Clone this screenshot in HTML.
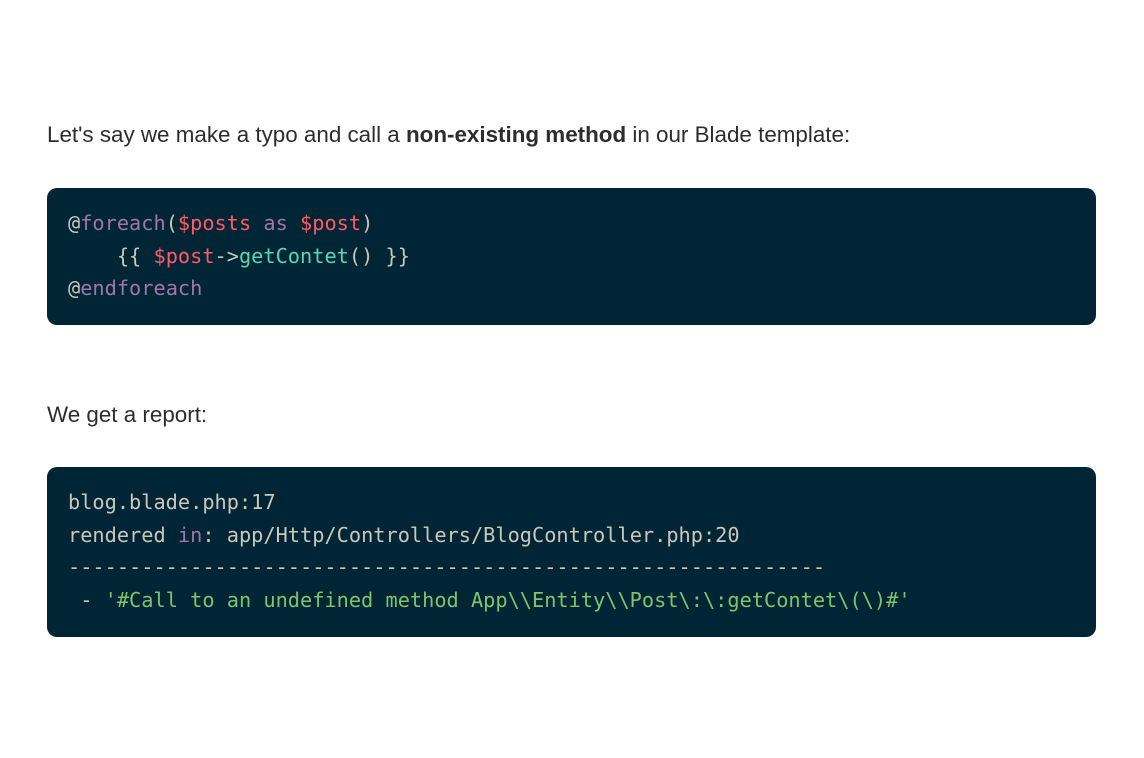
<!DOCTYPE html>
<html><head><meta charset="utf-8"><style>
body{margin:0;background:#fff;width:1144px;height:758px;position:relative;font-family:"Liberation Sans",Arial,sans-serif;color:#2d2d2d}
p{position:absolute;left:47px;margin:0;font-size:22.4px;line-height:30px}
.code{position:absolute;left:47px;width:1049px;background:#002535;border-radius:10px;box-sizing:border-box;padding:0 21px;font-family:"DejaVu Sans Mono","Liberation Mono",monospace;font-size:20.3px;line-height:32.5px;color:#c9c7bd;white-space:pre}
.k{color:#a175a8}.v{color:#ff5a67}.f{color:#55d8b5}.s{color:#7fc46d}
</style></head><body>
<p style="top:120px">Let's say we make a typo and call a <b>non-existing method</b> in our Blade template:</p>
<div class="code" style="top:188px;height:137px;padding-top:19px">@<span class="k">foreach</span>(<span class="v">$posts</span> <span class="k">as</span> <span class="v">$post</span>)
    {{ <span class="v">$post</span>-&gt;<span class="f">getContet</span>() }}
@<span class="k">endforeach</span></div>
<p style="top:400px">We get a report:</p>
<div class="code" style="top:467px;height:170px;padding-top:19px">blog.blade.php:17
rendered <span class="k">in</span>: app/Http/Controllers/BlogController.php:20
--------------------------------------------------------------
 - <span class="s">'#Call to an undefined method App\\Entity\\Post\:\:getContet\(\)#'</span></div>
</body></html>
